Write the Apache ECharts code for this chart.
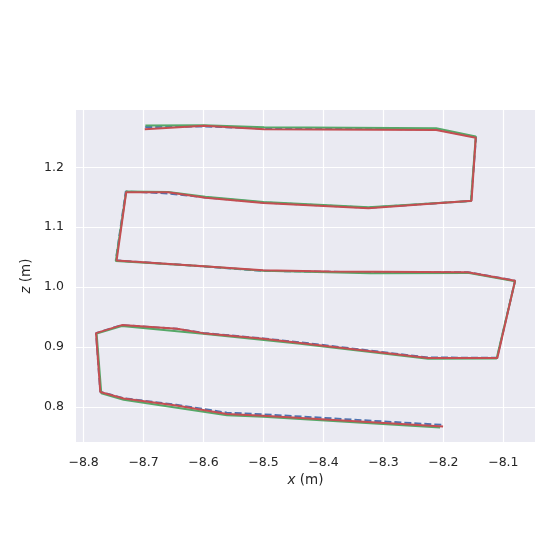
<!DOCTYPE html>
<html>
<head>
<meta charset="utf-8">
<script src="https://cdn.jsdelivr.net/npm/echarts@6/dist/echarts.min.js"></script>
<style>
  html, body { margin: 0; padding: 0; background: #fff; }
  #chart { width: 553px; height: 553px; }
</style>
</head>
<body>
<div id="chart"></div>
<script>
// trajectories in the x-z plane (m)
const truthX = [-8.6972, -8.5988, -8.4988, -8.2122, -8.1455, -8.1538, -8.3255, -8.5005, -8.5972, -8.6588, -8.7297, -8.7463,
  -8.6005, -8.5005, -8.3222, -8.1593, -8.0805, -8.1105, -8.2255, -8.4388, -8.5005, -8.6005, -8.6443, -8.7363, -8.7793,
  -8.7722, -8.7333, -8.6455, -8.561, -8.5005, -8.2005];
const truthZ = [1.2672, 1.268, 1.2647, 1.2633, 1.2502, 1.1438, 1.1325, 1.1413, 1.1497, 1.1563, 1.1597, 1.0447,
  1.0347, 1.0272, 1.0247, 1.025, 1.0108, 0.8822, 0.8826, 0.908, 0.9144, 0.9236, 0.9305, 0.9367, 0.9233,
  0.8255, 0.8147, 0.8038, 0.7906, 0.7878, 0.7702];

const greenX = [-8.697, -8.599, -8.499, -8.212, -8.146, -8.154, -8.325, -8.5, -8.597, -8.659, -8.729, -8.7463,
  -8.6, -8.5005, -8.322, -8.1593, -8.0805, -8.1113, -8.2255, -8.4388, -8.6005, -8.7363, -8.7783,
  -8.7705, -8.7333, -8.561, -8.5005, -8.2055];
const greenZ = [1.2697, 1.27, 1.2668, 1.265, 1.2513, 1.1438, 1.1333, 1.1422, 1.1508, 1.1588, 1.1597, 1.0435,
  1.035, 1.0275, 1.023, 1.0238, 1.0097, 0.8808, 0.8805, 0.9055, 0.9222, 0.935, 0.9225,
  0.823, 0.8122, 0.7863, 0.7838, 0.7658];

const redX = [-8.698, -8.599, -8.499, -8.212, -8.146, -8.153, -8.325, -8.5, -8.597, -8.659, -8.729, -8.745,
  -8.6, -8.5005, -8.39, -8.1593, -8.0805, -8.11, -8.2255, -8.4388, -8.5005, -8.6005, -8.6443, -8.7363, -8.7793,
  -8.7722, -8.7333, -8.6455, -8.561, -8.5005, -8.2005];
const redZ = [1.2633, 1.2693, 1.2633, 1.2622, 1.2493, 1.1442, 1.1317, 1.1405, 1.1492, 1.1583, 1.1583, 1.0443,
  1.035, 1.0283, 1.0263, 1.0247, 1.0105, 0.8817, 0.8817, 0.9067, 0.9138, 0.9233, 0.9305, 0.9367, 0.9233,
  0.8252, 0.8142, 0.8027, 0.7883, 0.7855, 0.7677];

const xTicks = [-8.8, -8.7, -8.6, -8.5, -8.4, -8.3, -8.2, -8.1];
const zTicks = [0.8, 0.9, 1.0, 1.1, 1.2];

const pairs = (xs, zs) => xs.map((x, i) => [x, zs[i]]);
const fmt = v => v.toFixed(1).replace('-', '\u2212');
const font = 'DejaVu Sans';

const chart = echarts.init(document.getElementById('chart'));
chart.setOption({
  animation: false,
  backgroundColor: '#ffffff',
  grid: { left: 76, right: 18, top: 110, bottom: 111, backgroundColor: '#EAEAF2', show: true, borderWidth: 0 },
  xAxis: {
    type: 'value',
    min: -8.8127, max: -8.0472,
    axisLine: { show: false },
    axisTick: { show: false, customValues: xTicks },
    axisLabel: { customValues: xTicks, formatter: fmt, color: '#262626', fontFamily: font, fontSize: 12.5, margin: 14 },
    splitLine: { lineStyle: { color: '#ffffff', width: 1.2 } },
    name: '{i|x} (m)',
    nameLocation: 'middle',
    nameGap: 31,
    nameTextStyle: { color: '#262626', fontFamily: font, fontSize: 13.5, rich: { i: { fontStyle: 'italic', fontFamily: font, fontSize: 13.5 } } }
  },
  yAxis: {
    type: 'value',
    min: 0.7417, max: 1.2955,
    axisLine: { show: false },
    axisTick: { show: false, customValues: zTicks },
    axisLabel: { customValues: zTicks, formatter: fmt, color: '#262626', fontFamily: font, fontSize: 12.5, margin: 12 },
    splitLine: { lineStyle: { color: '#ffffff', width: 1.2 } },
    name: '{i|z} (m)',
    nameLocation: 'middle',
    nameGap: 39,
    nameRotate: 90,
    nameTextStyle: { color: '#262626', fontFamily: font, fontSize: 13.5, rich: { i: { fontStyle: 'italic', fontFamily: font, fontSize: 13.5 } } }
  },
  series: [
    { name: 'truth', type: 'line', data: pairs(truthX, truthZ), showSymbol: false,
      lineStyle: { color: '#4C72B0', width: 2, type: [7, 3] } },
    { name: 'green', type: 'line', data: pairs(greenX, greenZ), showSymbol: false,
      lineStyle: { color: '#55A868', width: 2 } },
    { name: 'red', type: 'line', data: pairs(redX, redZ), showSymbol: false,
      lineStyle: { color: '#C44E52', width: 2 } }
  ]
});
</script>
</body>
</html>
